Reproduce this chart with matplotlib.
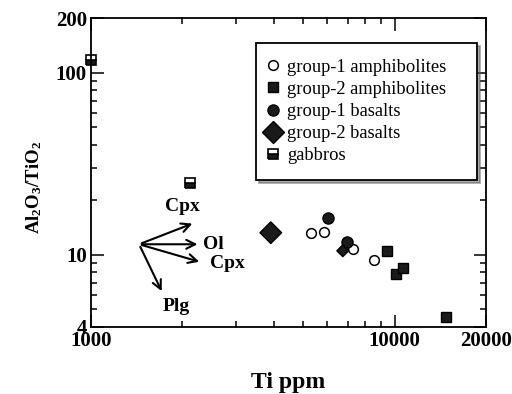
import numpy as np
import matplotlib.pyplot as plt
from matplotlib.ticker import FixedLocator, NullFormatter

plt.rcParams['font.family'] = ['Liberation Serif', 'DejaVu Serif']
plt.rcParams['mathtext.fontset'] = 'custom'
plt.rcParams['mathtext.bf'] = 'Liberation Serif:bold'
plt.rcParams['mathtext.rm'] = 'Liberation Serif'

# ---- data (Ti ppm, Al2O3/TiO2) ----
amph1_ti = [5290, 5840, 7270, 8530]
amph1_r = [13.1, 13.4, 10.8, 9.4]

amph2_ti = [9410, 10080, 10630, 14720]
amph2_r = [10.5, 7.8, 8.4, 4.55]

bas1_ti = [6020, 6950]
bas1_r = [16.0, 11.7]

bas2_ti = [3910, 6750]
bas2_r = [13.2, 10.5]
bas2_size = [11, 6]

gab_ti = [1000, 2120]
gab_r = [117, 24.7]

# fractionation vectors
vec_origin = (1440, 11.4)
vec_names = ['Cpx', 'Ol', 'Cpx', 'Plg']
vec_end_ti = [2200, 2290, 2320, 1725]
vec_end_r = [15.0, 11.4, 9.05, 6.1]
vec_lab_ti = [1994, 2522, 2805, 1905]
vec_lab_r = [18.5, 11.4, 8.9, 5.2]

fig = plt.figure(figsize=(5.12, 3.94), dpi=100)
ax = fig.add_axes([91/512, 1-327/394, 395/512, 309/394])
ax.set_xscale('log')
ax.set_yscale('log')
ax.set_xlim(1000, 20000)
ax.set_ylim(4, 200)

ax.plot(amph1_ti, amph1_r, 'o', ms=7, mfc='white', mec='black', mew=1.1,
        linestyle='none', label='group-1 amphibolites', clip_on=False)
ax.plot(amph2_ti, amph2_r, 's', ms=7, mfc='#1a1a1a', mec='black',
        linestyle='none', label='group-2 amphibolites', clip_on=False)
ax.plot(bas1_ti, bas1_r, 'o', ms=8, mfc='#1a1a1a', mec='black',
        linestyle='none', label='group-1 basalts', clip_on=False)
ax.scatter(bas2_ti, bas2_r, s=[v**2 for v in bas2_size], marker='D',
           c='#1a1a1a', edgecolors='black', zorder=3)
ax.plot([], [], 'D', ms=11, mfc='#1a1a1a', mec='black', linestyle='none',
        label='group-2 basalts')
ax.plot(gab_ti, gab_r, 's', ms=7, fillstyle='bottom', mfc='#1a1a1a',
        markerfacecoloralt='white', mec='black', mew=1.2,
        linestyle='none', label='gabbros', clip_on=False)

for name, xe, ye, xl, yl in zip(vec_names, vec_end_ti, vec_end_r, vec_lab_ti, vec_lab_r):
    ax.annotate('', xy=(xe, ye), xytext=vec_origin,
                arrowprops=dict(arrowstyle='->', lw=1.5, color='black',
                                mutation_scale=16))
    ax.text(xl, yl, name, fontsize=14, fontweight='bold', ha='center', va='center')

# ticks
ax.xaxis.set_major_locator(FixedLocator([1000, 10000, 20000]))
ax.xaxis.set_minor_locator(FixedLocator([2000, 3000, 4000, 5000, 6000, 7000, 8000, 9000]))
ax.set_xticklabels(['1000', '10000', '20000'])
ax.xaxis.set_minor_formatter(NullFormatter())
ax.yaxis.set_major_locator(FixedLocator([4, 10, 100, 200]))
ax.yaxis.set_minor_locator(FixedLocator([5, 6, 7, 8, 9, 20, 30, 40, 50, 60, 70, 80, 90]))
ax.set_yticklabels(['4', '10', '100', '200'])
ax.yaxis.set_minor_formatter(NullFormatter())
ax.tick_params(which='both', direction='in', top=True, right=True, width=1.1)
ax.tick_params(which='major', length=9, labelsize=15, pad=3)
ax.tick_params(which='minor', length=4)
for lab in ax.get_xticklabels() + ax.get_yticklabels():
    lab.set_fontweight('bold')
for sp in ax.spines.values():
    sp.set_linewidth(1.3)

ax.set_xlabel('Ti ppm', fontsize=17, fontweight='bold', va='center')
ax.xaxis.set_label_coords(0.5, -0.178)
ax.set_ylabel(r'$\mathbf{Al_2O_3/TiO_2}$', fontsize=13.5)
ax.yaxis.set_label_coords(-0.12, 0.453)

leg = ax.legend(loc='upper left', bbox_to_anchor=(165/395, 1 - 25/309, 221/395, 0),
                mode='expand', fontsize=13.3, frameon=True, fancybox=False,
                shadow={'color': '0.35'},
                handletextpad=0.75, handlelength=0.1, labelspacing=0.28,
                borderpad=0.85, borderaxespad=0)
leg.get_frame().set_edgecolor('black')
leg.get_frame().set_linewidth(1.3)

fig.savefig('out.png', dpi=100)
